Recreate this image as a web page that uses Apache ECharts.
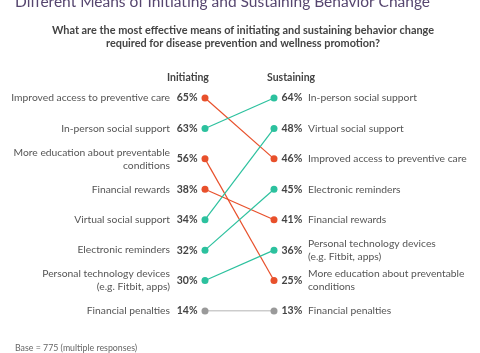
<!DOCTYPE html>
<html>
<head>
<meta charset="utf-8">
<script src="https://cdn.jsdelivr.net/npm/echarts@6/dist/echarts.min.js"></script>
<style>
  html, body { margin: 0; padding: 0; background: #fff; }
  #main { width: 480px; height: 353px; }
</style>
</head>
<body>
<div id="main"></div>
<script>
// 数据
var items = [
    'Improved access to preventive care',
    'In-person social support',
    'More education about preventable\nconditions',
    'Financial rewards',
    'Virtual social support',
    'Electronic reminders',
    'Personal technology devices\n(e.g. Fitbit, apps)',
    'Financial penalties'
];
var initiating = [65, 63, 56, 38, 34, 32, 30, 14];
var sustaining = [46, 64, 25, 41, 48, 45, 36, 13];

var colorUp = '#2cc19e';
var colorDown = '#e8502b';
var colorSame = '#9a9a9a';

// 排名 (0 = 最高)
function ranks(values) {
    var order = values.map(function (v, i) { return i; });
    order.sort(function (a, b) { return values[b] - values[a]; });
    var r = [];
    order.forEach(function (idx, pos) { r[idx] = pos; });
    return r;
}
var initRank = ranks(initiating);
var sustRank = ranks(sustaining);

var initNames = [], sustNames = [];
items.forEach(function (name, i) {
    initNames[initRank[i]] = name;
    sustNames[sustRank[i]] = name;
});

var series = items.map(function (name, i) {
    var c = sustRank[i] < initRank[i] ? colorUp : (sustRank[i] > initRank[i] ? colorDown : colorSame);
    return {
        name: name,
        type: 'line',
        symbol: 'circle',
        symbolSize: 7,
        color: c,
        lineStyle: { width: 1.2, color: c },
        itemStyle: { color: c },
        silent: true,
        data: [
            { value: [0, initRank[i]], label: { show: true, position: 'left', distance: 4, formatter: initiating[i] + '%' } },
            { value: [1, sustRank[i]], label: { show: true, position: 'right', distance: 4, formatter: sustaining[i] + '%' } }
        ],
        label: {
            fontFamily: 'Lato',
            fontWeight: 'bold',
            fontSize: 10.5,
            color: '#444'
        }
    };
});

var chart = echarts.init(document.getElementById('main'));
var option = {
    animation: false,
    title: {
        text: 'Different Means of Initiating and Sustaining Behavior Change',
        left: 10,
        top: -11,
        textStyle: { fontFamily: 'Lato', fontSize: 15.5, fontWeight: 'normal', color: '#56466f' }
    },
    graphic: [
        {
            type: 'text', x: 243, y: 24,
            style: {
                text: 'What are the most effective means of initiating and sustaining behavior change\nrequired for disease prevention and wellness promotion?',
                font: 'bold 10.9px Lato', fill: '#444', align: 'center', lineHeight: 13
            }
        },
        { type: 'text', left: 167, top: 72, style: { text: 'Initiating', font: 'bold 10.5px Lato', fill: '#444' } },
        { type: 'text', left: 267, top: 72, style: { text: 'Sustaining', font: 'bold 10.5px Lato', fill: '#444' } },
        { type: 'text', left: 15, top: 344, style: { text: 'Base = 775 (multiple responses)', font: '8.8px Lato', fill: '#666' } }
    ],
    grid: { left: 205, right: 206, top: 98, height: 213, containLabel: false },
    xAxis: { type: 'value', min: 0, max: 1, show: false },
    yAxis: [
        {
            type: 'value', min: 0, max: 7, interval: 1, inverse: true, position: 'left',
            axisLine: { show: false }, axisTick: { show: false }, splitLine: { show: false },
            axisLabel: {
                margin: 35, fontFamily: 'Lato', fontSize: 10.3, color: '#555', lineHeight: 13, align: 'right',
                formatter: function (v) { return initNames[v] || ''; }
            }
        },
        {
            type: 'value', min: 0, max: 7, interval: 1, inverse: true, position: 'right',
            axisLine: { show: false }, axisTick: { show: false }, splitLine: { show: false },
            axisLabel: {
                margin: 34, fontFamily: 'Lato', fontSize: 10.3, color: '#555', lineHeight: 13, align: 'left',
                formatter: function (v) { return sustNames[v] || ''; }
            }
        }
    ],
    series: series
};
chart.setOption(option);
</script>
</body>
</html>
